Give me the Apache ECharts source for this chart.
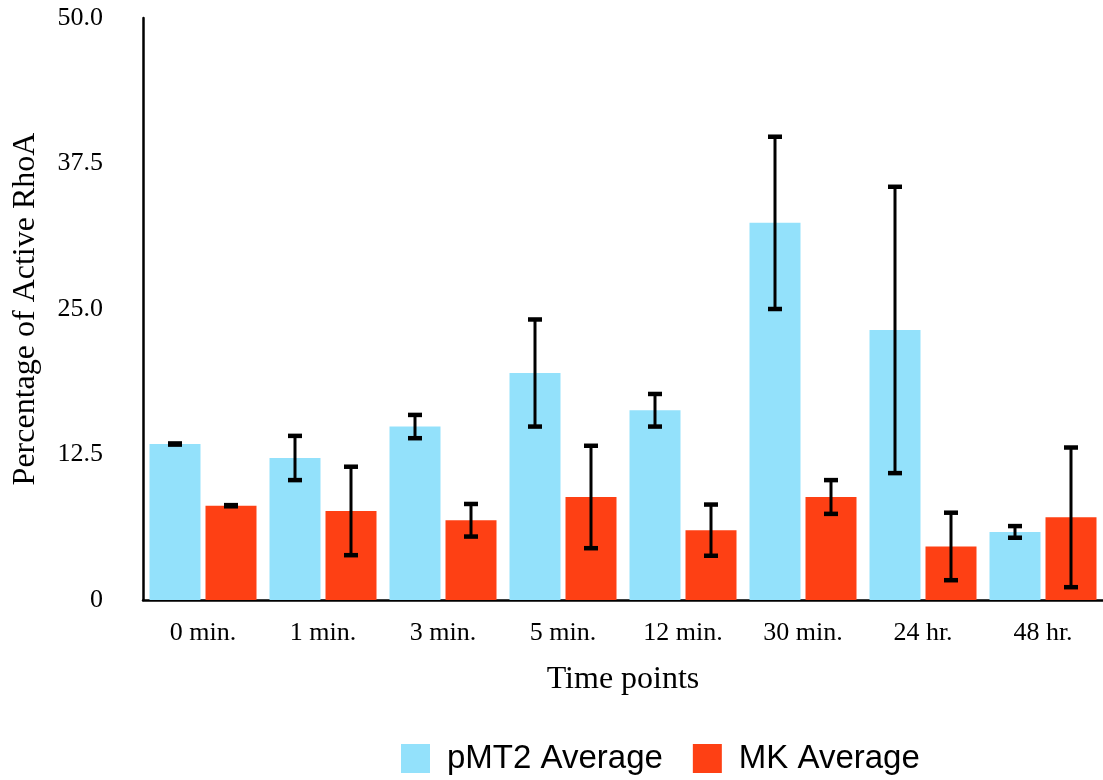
<!DOCTYPE html>
<html>
<head>
<meta charset="utf-8">
<script src="https://cdn.jsdelivr.net/npm/echarts@6/dist/echarts.min.js"></script>
<style>
html,body{margin:0;padding:0;background:#fff;}
#chart{width:1103px;height:780px;}
</style>
</head>
<body>
<div id="chart"></div>
<script>
const categories = ['0 min.', '1 min.', '3 min.', '5 min.', '12 min.', '30 min.', '24 hr.', '48 hr.'];
const pmt2Values = [13.4, 12.2, 14.9, 19.5, 16.3, 32.4, 23.2, 5.85];
const pmt2Errors = [0.05, 1.9, 1.0, 4.6, 1.4, 7.4, 12.3, 0.5];
const mkValues = [8.1, 7.65, 6.85, 8.85, 6.0, 8.85, 4.6, 7.1];
const mkErrors = [0.05, 3.8, 1.4, 4.4, 2.2, 1.45, 2.9, 6.0];
const yTicks = [0, 12.5, 25, 37.5, 50];

const BAR_W = 51;
const BAR_GAP = 5;
const serif = '"Liberation Serif", "DejaVu Serif", serif';
const sans = '"Liberation Sans", Arial, sans-serif';

function errRender(values, errors, offset) {
  return function (params, api) {
    const i = api.value(0);
    const lo = api.coord([i, values[i] - errors[i]]);
    const hi = api.coord([i, values[i] + errors[i]]);
    const x = lo[0] + offset;
    const cap = 7;
    return {
      type: 'group',
      children: [
        { type: 'line', shape: { x1: x, y1: hi[1], x2: x, y2: lo[1] }, style: { stroke: '#000', lineWidth: 3 } },
        { type: 'line', shape: { x1: x - cap, y1: hi[1], x2: x + cap, y2: hi[1] }, style: { stroke: '#000', lineWidth: 4.5 } },
        { type: 'line', shape: { x1: x - cap, y1: lo[1], x2: x + cap, y2: lo[1] }, style: { stroke: '#000', lineWidth: 4.5 } }
      ]
    };
  };
}

const off = (BAR_W + BAR_GAP) / 2;
const chart = echarts.init(document.getElementById('chart'), null, { renderer: 'canvas' });
chart.setOption({
  animation: false,
  backgroundColor: '#fff',
  grid: { left: 143, right: 0, top: 18, bottom: 180, containLabel: false, outerBoundsMode: 'none' },
  legend: {
    bottom: 0,
    left: 396,
    itemWidth: 29,
    itemHeight: 29,
    itemGap: 30,
    icon: 'rect',
    textStyle: { fontFamily: sans, fontSize: 33, color: '#000', padding: [0, 0, 0, 12] },
    data: ['pMT2 Average', 'MK Average']
  },
  xAxis: {
    type: 'category',
    data: categories,
    name: 'Time points',
    nameLocation: 'middle',
    nameGap: 64,
    nameTextStyle: { fontFamily: serif, fontSize: 32, color: '#000' },
    axisLine: { lineStyle: { color: '#000', width: 2.5 } },
    axisTick: { show: false },
    axisLabel: { fontFamily: serif, fontSize: 26, color: '#000', margin: 20 }
  },
  yAxis: {
    type: 'value',
    min: 0,
    max: 50,
    interval: 12.5,
    name: 'Percentage of Active RhoA',
    nameLocation: 'middle',
    nameGap: 101,
    nameTextStyle: { fontFamily: serif, fontSize: 32, color: '#000' },
    axisLine: { show: true, lineStyle: { color: '#000', width: 2.5 } },
    axisTick: { show: false },
    splitLine: { show: false },
    axisLabel: {
      fontFamily: serif, fontSize: 26, color: '#000', margin: 40,
      formatter: function (v) { return v === yTicks[0] ? '0' : v.toFixed(1); }
    }
  },
  series: [
    { name: 'pMT2 Average', type: 'bar', data: pmt2Values, barWidth: BAR_W, barGap: (BAR_GAP / BAR_W * 100) + '%', itemStyle: { color: '#93E1FB' } },
    { name: 'MK Average', type: 'bar', data: mkValues, barWidth: BAR_W, itemStyle: { color: '#FE4014' } },
    { type: 'custom', renderItem: errRender(pmt2Values, pmt2Errors, -off), data: categories.map((c, i) => [i]), z: 10 },
    { type: 'custom', renderItem: errRender(mkValues, mkErrors, off), data: categories.map((c, i) => [i]), z: 10 }
  ]
});
</script>
</body>
</html>
